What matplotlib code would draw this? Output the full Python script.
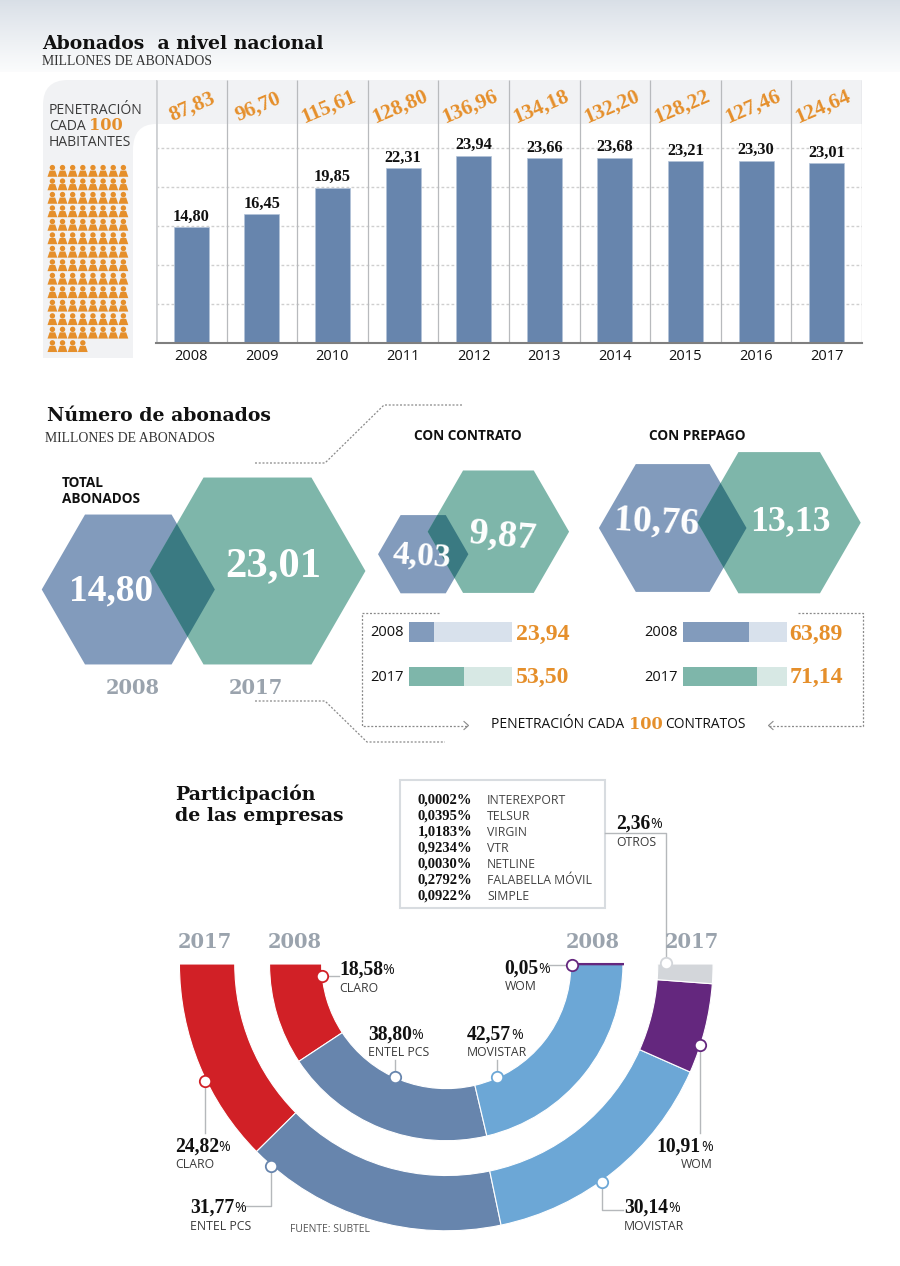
import numpy as np
import matplotlib
matplotlib.use("Agg")
import matplotlib.pyplot as plt
from matplotlib.patches import Polygon, PathPatch, Rectangle
from matplotlib.path import Path
from matplotlib.textpath import TextPath
from matplotlib.font_manager import FontProperties

# ---- data ----
years = ["2008", "2009", "2010", "2011", "2012", "2013", "2014", "2015", "2016", "2017"]
subscribers = [14.80, 16.45, 19.85, 22.31, 23.94, 23.66, 23.68, 23.21, 23.30, 23.01]
penetration = [87.83, 96.70, 115.61, 128.80, 136.96, 134.18, 132.20, 128.22, 127.46, 124.64]
people_count = 108

total_vals = [14.80, 23.01]
contract_vals = [4.03, 9.87]
prepaid_vals = [10.76, 13.13]
contract_pen = [23.94, 53.50]
prepaid_pen = [63.89, 71.14]

share_2008 = [18.58, 38.80, 42.57, 0.05]
share_2017 = [24.82, 31.77, 30.14, 10.91, 2.36]
names_2008 = ["CLARO", "ENTEL PCS", "MOVISTAR", "WOM"]
names_2017 = ["CLARO", "ENTEL PCS", "MOVISTAR", "WOM", "OTROS"]

others_share = ["0,0002%", "0,0395%", "1,0183%", "0,9234%", "0,0030%", "0,2792%", "0,0922%"]
others_names = ["INTEREXPORT", "TELSUR", "VIRGIN", "VTR", "NETLINE", "FALABELLA MÓVIL", "SIMPLE"]

# ---- styles ----
W, H = 900, 1266
BLUE = "#6785ad"; HEXBLUE = "#829bbc"; HEXGREEN = "#7eb6aa"; OVER = "#3a7a82"
ORANGE = "#e58f2b"; INK = "#111111"; TXT = "#3a3a3a"; YEARC = "#9aa3ad"; PANEL = "#f1f2f4"
RED = "#d12026"; LBLUE = "#6ca7d6"; PURPLE = "#64277e"; LGREY = "#d3d6da"
SERIF = "DejaVu Serif"; NUM = "Liberation Serif"; SANS = "Open Sans"


def fit(s, width, family, weight="normal"):
    fp = FontProperties(family=family, weight=weight)
    w = TextPath((0, 0), s, size=10, prop=fp).get_extents().width
    return 10 * width * 0.72 / w


def comma(v):
    return f"{v:.2f}".replace(".", ",")


fig = plt.figure(figsize=(W / 100, H / 100), dpi=100, facecolor="white")


def px_axes(z):
    a = fig.add_axes([0, 0, 1, 1], zorder=z)
    a.set_xlim(0, W); a.set_ylim(H, 0); a.axis("off")
    a.patch.set_alpha(0)
    return a


def rect_axes(x0, y0, x1, y1, z=1):
    return fig.add_axes([x0 / W, 1 - y1 / H, (x1 - x0) / W, (y1 - y0) / H], zorder=z)


bg = px_axes(0)
fg = px_axes(5)

# background gradient
grad = np.linspace(0, 1, 72)[:, None] ** 0.9
c0 = np.array([0.85, 0.875, 0.905]); c1 = np.array([0.985, 0.988, 0.99])
img = (c0[None, None, :] * (1 - grad[..., None]) + c1[None, None, :] * grad[..., None])
bg.imshow(img, extent=(0, W, 72, 0), aspect="auto", zorder=0)
bg.set_xlim(0, W); bg.set_ylim(H, 0)

# grey panel + band
verts = [(43, 358), (43, 105), (43, 80), (68, 80), (862, 80), (862, 124), (156, 124),
         (133, 124), (133, 150), (133, 358), (43, 358)]
codes = [Path.MOVETO, Path.LINETO, Path.CURVE3, Path.CURVE3, Path.LINETO, Path.LINETO, Path.LINETO,
         Path.CURVE3, Path.CURVE3, Path.LINETO, Path.CLOSEPOLY]
bg.add_patch(PathPatch(Path(verts, codes), fc=PANEL, ec="none", zorder=1))

# ---- bar chart ----
ax = rect_axes(156, 80, 862, 342.5, z=1)
ax.patch.set_alpha(0)
xs = np.arange(len(years))
ax.set_xlim(-0.5, 9.5)
ax.set_ylim(0, 262.5 / 7.8)
ax.set_yticks([5, 10, 15, 20, 25])
ax.yaxis.grid(True, color="#cfcfcf", lw=1, ls=(0, (2, 1.6)))
ax.set_axisbelow(True)
ax.tick_params(axis="y", length=0, labelleft=False)
ax.set_xticks(xs, years)
ax.tick_params(axis="x", length=0, pad=5, labelsize=10.5, labelcolor=INK)
for lab in ax.get_xticklabels():
    lab.set_family(SANS)
for s in ["top", "left", "right"]:
    ax.spines[s].set_visible(False)
ax.spines["bottom"].set_color("#7f7f7f"); ax.spines["bottom"].set_linewidth(1.5)
ax.vlines(np.arange(-0.5, 10), 0, 262.5 / 7.8, color="#b8babd", lw=0.9, zorder=1)
ax.vlines(-0.5, 0, 262.5 / 7.8, color="#cfd1d4", lw=2, zorder=1)
ax.bar(xs, subscribers, width=0.495, color=BLUE, edgecolor="#b3c3d8", lw=0.5, zorder=2)
fsz = fit("23,94", 36, NUM, "bold")
for x, v in zip(xs, subscribers):
    ax.text(x, v + 1.35, comma(v), ha="center", va="center", fontsize=fsz, family=NUM,
            weight="bold", color=INK)
fsz = fit("128,80", 56, NUM, "bold")
for x, v in zip(xs, penetration):
    dx = 0.01 if x == 0 else -0.05
    ax.text(x + dx, 262.5 / 7.8 - 3.4, comma(v), ha="center", va="center", fontsize=fsz,
            family=NUM, weight="bold", color=ORANGE, rotation=23, rotation_mode="anchor")

# pictogram
cols = 8
for i in range(people_count):
    row, col = divmod(i, cols)
    cx = 52.4 + col * 10.14
    top = 165 + row * 13.48
    bg.add_patch(plt.Circle((cx, top + 2.6), 2.7, fc=ORANGE, ec="none", zorder=2))
    bg.add_patch(Polygon([(cx - 4.9, top + 11.8), (cx - 2.8, top + 5.6), (cx + 2.8, top + 5.6), (cx + 4.9, top + 11.8)],
                         closed=True, fc=ORANGE, ec="none", zorder=2))


def T(x, y, s, size, family=SANS, weight="normal", color=TXT, ha="left", va="center", rot=0, ax_=None):
    (ax_ or fg).text(x, y, s, fontsize=size, family=family, weight=weight, color=color, ha=ha, va=va,
                     rotation=rot, rotation_mode="anchor")


# titles
T(42, 44, "Abonados  a nivel nacional", fit("Abonados  a nivel nacional", 283, SERIF, "bold"), SERIF, "bold", INK)
sub = fit("MILLONES DE ABONADOS", 170, "Liberation Serif")
T(42, 61.5, "MILLONES DE ABONADOS", sub, "Liberation Serif", color="#333333")
pan = fit("PENETRACIÓN", 91, SANS)
T(49, 110, "PENETRACIÓN", pan, SANS)
T(49, 126, "CADA", pan, SANS)
T(89, 125.5, "100", fit("100", 31, "DejaVu Serif", "bold"), "DejaVu Serif", "bold", ORANGE)
T(49, 142, "HABITANTES", pan, SANS)

T(47, 416, "Número de abonados", fit("Número de abonados", 223, SERIF, "bold"), SERIF, "bold", INK)
T(45, 439, "MILLONES DE ABONADOS", sub, "Liberation Serif", color="#333333")
lab_b = fit("ABONADOS", 78, SANS, "bold")
T(62, 483, "TOTAL", lab_b, SANS, "bold", INK)
T(62, 499, "ABONADOS", lab_b, SANS, "bold", INK)
T(468, 436.5, "CON CONTRATO", lab_b, SANS, "bold", INK, ha="center")
T(697, 436.5, "CON PREPAGO", lab_b, SANS, "bold", INK, ha="center")


# ---- hexagons ----
def hexagon(c, r):
    ang = np.radians(np.arange(0, 360, 60))
    return np.c_[c[0] + r * np.cos(ang), c[1] + r * np.sin(ang)]


K = 22.5
pairs = [(total_vals, (128.3, 589.5), (257.5, 571)),
         (contract_vals, (423.2, 554.2), (498.4, 531.7)),
         (prepaid_vals, (672.7, 528), (779.2, 522.7))]
for vals, c1_, c2_ in pairs:
    a = Polygon(hexagon(c1_, K * np.sqrt(vals[0])), fc=HEXBLUE, ec="none", zorder=2)
    b = Polygon(hexagon(c2_, K * np.sqrt(vals[1])), fc=HEXGREEN, ec="none", zorder=3)
    bg.add_patch(a); bg.add_patch(b)
    o = Polygon(hexagon(c2_, K * np.sqrt(vals[1])), fc=OVER, ec="none", zorder=4)
    bg.add_patch(o)
    o.set_clip_path(a)

hx = fit("23,01", 92, NUM, "bold")
T(111, 591, comma(total_vals[0]), fit("14,80", 80, NUM, "bold"), NUM, "bold", "white", "center")
T(273, 566, comma(total_vals[1]), hx, NUM, "bold", "white", "center")
T(422, 556, comma(contract_vals[0]), fit("4,03", 57, NUM, "bold"), NUM, "bold", "white", "center", rot=-4)
T(503, 536, comma(contract_vals[1]), fit("9,87", 65, NUM, "bold"), NUM, "bold", "white", "center", rot=-5)
T(656, 522, comma(prepaid_vals[0]), fit("10,76", 81, NUM, "bold"), NUM, "bold", "white", "center", rot=-3)
T(790, 522, comma(prepaid_vals[1]), fit("13,13", 76, NUM, "bold"), NUM, "bold", "white", "center")
yr_sz = fit("2008", 52, SERIF, "bold")
T(133, 688, "2008", yr_sz, SERIF, "bold", YEARC, "center")
T(256, 688, "2017", yr_sz, SERIF, "bold", YEARC, "center")

# dotted connectors
dot = dict(color="#8a8a8a", lw=0.9, ls=(0, (1.6, 1.4)))
fg.plot([255, 325, 384, 462], [463, 463, 405, 405], **dot)
fg.plot([255, 325, 367, 445], [701, 701, 742, 742], **dot)
fg.plot([439, 361.5, 361.5, 468], [612.5, 612.5, 725.5, 725.5], **dot)
fg.plot([798, 862.5, 862.5, 769], [612.5, 612.5, 725.5, 725.5], **dot)
fg.plot([464, 468.5, 464], [721.5, 725.5, 729.5], color="#8a8a8a", lw=0.8)
fg.plot([773, 768.5, 773], [721.5, 725.5, 729.5], color="#8a8a8a", lw=0.8)


# ---- penetration bars ----
def pen_bars(x0, x1, vals, value_x):
    a = rect_axes(x0, 610, x1, 698, z=2)
    a.patch.set_alpha(0)
    a.set_xlim(0, 100); a.set_ylim(1.483, -0.494); a.axis("off")
    a.barh([0, 1], vals, height=0.44, color=[HEXBLUE, HEXGREEN])
    a.barh([0, 1], [100 - v for v in vals], left=vals, height=0.44, color=["#d8e1ec", "#d7e8e4"])
    for i, y in enumerate(["2008", "2017"]):
        a.text(-5.5, i + 0.02, y, ha="right", va="center", fontsize=10.5, family=SANS, color=INK)
        T(value_x, [634, 677][i], comma(vals[i]), fit("23,94", 52, NUM, "bold"), NUM, "bold", ORANGE, "center")


pen_bars(409, 512, contract_pen, 542.5)
pen_bars(683, 786.5, prepaid_pen, 816)
ps = fit("PENETRACIÓN CADA", 132, SANS)
T(491, 725, "PENETRACIÓN CADA", ps, SANS, color=INK)
T(629, 724.5, "100", fit("100", 31, "DejaVu Serif", "bold"), "DejaVu Serif", "bold", ORANGE)
T(665, 725, "CONTRATOS", fit("CONTRATOS", 79, SANS), SANS, color=INK)

# ---- semicircles ----
pie_ax = rect_axes(446.25 - 280, 964 - 280, 446.25 + 280, 964 + 280, z=1)
pie_ax.patch.set_alpha(0)


def half(values, colors, r_out, r_in):
    w, _ = pie_ax.pie(values + [100.0], radius=r_out, startangle=180, counterclock=True,
                      colors=colors + ["none"],
                      wedgeprops=dict(width=r_out - r_in, edgecolor="white", linewidth=0.8))
    w[-1].set_edgecolor("none")
    return w


w08 = half(share_2008, [RED, BLUE, LBLUE, PURPLE], 176.7, 124.6)
w08[3].set_edgecolor(PURPLE); w08[3].set_linewidth(1.5)
half(share_2017, [RED, BLUE, LBLUE, PURPLE, LGREY], 266.8, 211.5)
pie_ax.set_xlim(-280, 280); pie_ax.set_ylim(-280, 280); pie_ax.set_aspect("equal")

T(205, 942, "2017", yr_sz, SERIF, "bold", YEARC, "center")
T(295, 942, "2008", yr_sz, SERIF, "bold", YEARC, "center")
T(593, 942, "2008", yr_sz, SERIF, "bold", YEARC, "center")
T(692, 942, "2017", yr_sz, SERIF, "bold", YEARC, "center")

t2 = fit("de las empresas", 168, SERIF, "bold")
T(175, 794, "Participación", t2, SERIF, "bold", INK)
T(175, 816, "de las empresas", t2, SERIF, "bold", INK)

# table
fg.add_patch(Rectangle((400, 780), 204.5, 127.5, fc="white", ec="#d8dce0", lw=1.5, zorder=1))
fv = fit("0,0002%", 53, "Liberation Serif", "bold")
fn = fit("INTEREXPORT", 78, SANS)
for i, (s, n) in enumerate(zip(others_share, others_names)):
    T(418, 800 + 16 * i, s, fv, "Liberation Serif", "bold", INK)
    T(487, 800 + 16 * i, n, fn, SANS, color="#444444")

# leaders and dots
lead = dict(color="#b5b8bb", lw=1, zorder=2)
lines = [([322.3, 339], [975.7, 975.7]), ([395.3, 395.3], [1077, 1060]), ([497.3, 497.3], [1077, 1060]),
         ([571.7, 548], [965.3, 965.3]), ([666.3, 666.3, 605], [963.3, 833.3, 833.3]),
         ([700, 700], [1045, 1133]), ([602.3, 602.3, 623], [1182.3, 1210, 1210]),
         ([205, 205], [1081, 1133]), ([270.7, 270.7, 246], [1165.7, 1206, 1206])]
for lx, ly in lines:
    fg.plot(lx, ly, **lead)
dots = [(322.3, 975.7, RED), (395.3, 1077, BLUE), (497.3, 1077, LBLUE), (571.7, 965.3, PURPLE),
        (666.3, 963.3, LGREY), (700, 1045, PURPLE), (602.3, 1182.3, LBLUE), (205, 1081, RED),
        (270.7, 1165.7, BLUE)]
for dx, dy, c in dots:
    fg.plot([dx], [dy], "o", ms=8.2, mfc="white", mec=c, mew=1.3, zorder=3)

share_sz = fit("18,58", 42, NUM, "bold")
pct_sz = share_sz * 0.72
nm = fit("MOVISTAR", 59, SANS)


def share_label(x, y, value, name, right=False):
    s = comma(value)
    w = TextPath((0, 0), s, size=share_sz, prop=FontProperties(family=NUM, weight="bold")).get_extents().width / 0.72
    if right:
        T(x, y + 0.5, "%", pct_sz, SANS, color=INK, ha="right")
        T(x - 12.5, y, s, share_sz, NUM, "bold", INK, "right")
        T(x, y + 18, name, nm, SANS, ha="right")
    else:
        T(x, y, s, share_sz, NUM, "bold", INK)
        T(x + w + 1, y + 0.5, "%", pct_sz, SANS, color=INK)
        T(x, y + 18, name, nm, SANS)


share_label(339, 970, share_2008[0], names_2008[0])
share_label(368, 1035, share_2008[1], names_2008[1])
share_label(467, 1035, share_2008[2], names_2008[2])
share_label(504.5, 969, share_2008[3], names_2008[3])
share_label(616, 824, share_2017[4], names_2017[4])
share_label(713, 1147, share_2017[3], names_2017[3], right=True)
share_label(624, 1208, share_2017[2], names_2017[2])
share_label(175, 1147, share_2017[0], names_2017[0])
share_label(190, 1208, share_2017[1], names_2017[1])
T(290, 1229, "FUENTE: SUBTEL", fit("FUENTE: SUBTEL", 79, SANS), SANS, color="#555555")

fig.savefig("out.png", dpi=100, facecolor="white")
